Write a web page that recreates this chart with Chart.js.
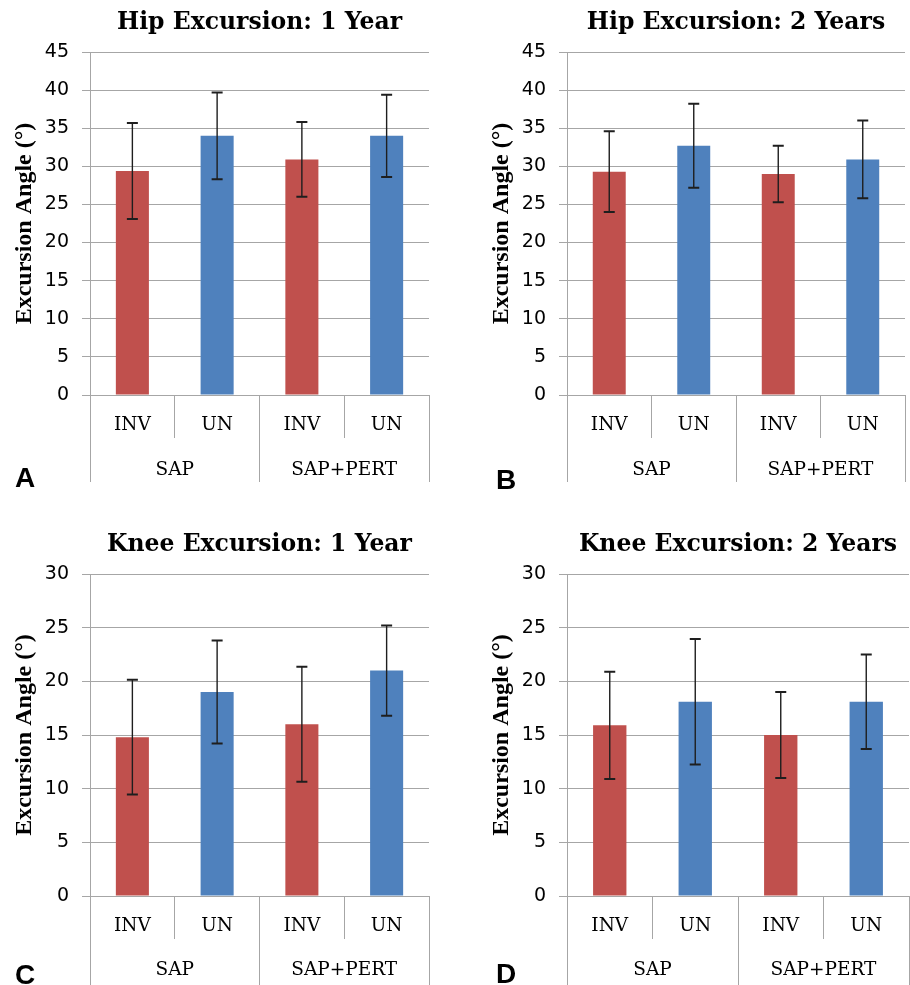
<!DOCTYPE html>
<html>
<head>
<meta charset="utf-8">
<script src="https://cdn.jsdelivr.net/npm/chart.js@4.4.0/dist/chart.umd.min.js"></script>
<style>
  body { margin: 0; background: #fff; width: 910px; height: 985px; position: relative; overflow: hidden; }
  canvas { position: absolute; }
  .tag { position: absolute; font: bold 28px "Liberation Sans", Arial, sans-serif; line-height: 28px; color: #000; }
</style>
</head>
<body>
<canvas id="hip1" width="455" height="482" style="left:0;top:0"></canvas>
<canvas id="hip2" width="433" height="482" style="left:477px;top:0"></canvas>
<canvas id="knee1" width="455" height="463" style="left:0;top:522px"></canvas>
<canvas id="knee2" width="433" height="463" style="left:477px;top:522px"></canvas>
<div class="tag" style="left:15px;top:464px">A</div>
<div class="tag" style="left:496px;top:466px">B</div>
<div class="tag" style="left:15px;top:961px">C</div>
<div class="tag" style="left:496px;top:960px">D</div>
<script>
// categories
const groupLabels = ['SAP', 'SAP+PERT'];
const subLabels = ['INV', 'UN', 'INV', 'UN'];

// means and error (+/-) per panel, in degrees
const hip1Mean = [29.4, 34.0, 30.9, 34.0];
const hip1Err = [6.3, 5.7, 4.9, 5.4];
const hip2Mean = [29.3, 32.7, 29.0, 30.9];
const hip2Err = [5.3, 5.5, 3.7, 5.1];
const knee1Mean = [14.8, 19.0, 16.0, 21.0];
const knee1Err = [5.35, 4.8, 5.35, 4.2];
const knee2Mean = [15.9, 18.1, 15.0, 18.1];
const knee2Err = [5.0, 5.85, 4.0, 4.4];

// axis ranges
const hipMax = 45;
const kneeMax = 30;
const tickStep = 5;

const RED = '#c0504d';
const BLUE = '#4f81bd';
const GRID = '#a6a6a6';
const barColors = [RED, BLUE, RED, BLUE];

const errorBars = {
  id: 'errorBars',
  afterDatasetsDraw(chart) {
    const ctx = chart.ctx;
    const y = chart.scales.y;
    const ds = chart.data.datasets[0];
    const meta = chart.getDatasetMeta(0);
    ctx.save();
    ctx.strokeStyle = '#1e1e1e';
    meta.data.forEach((bar, i) => {
      const top = y.getPixelForValue(ds.data[i] + ds.errors[i]);
      const bot = y.getPixelForValue(ds.data[i] - ds.errors[i]);
      ctx.lineWidth = 1.4;
      ctx.beginPath();
      ctx.moveTo(bar.x, top);
      ctx.lineTo(bar.x, bot);
      ctx.stroke();
      ctx.lineWidth = 2;
      ctx.beginPath();
      ctx.moveTo(bar.x - 5.5, top);
      ctx.lineTo(bar.x + 5.5, top);
      ctx.moveTo(bar.x - 5.5, bot);
      ctx.lineTo(bar.x + 5.5, bot);
      ctx.stroke();
    });
    ctx.restore();
  }
};

function makePanel(id, title, means, errs, yMax, padRight, groupH, groupPad) {
  return new Chart(document.getElementById(id), {
    type: 'bar',
    data: {
      labels: subLabels,
      datasets: [{
        data: means,
        errors: errs,
        backgroundColor: barColors,
        borderWidth: 0,
        categoryPercentage: 1,
        barPercentage: 0.39
      }]
    },
    options: {
      responsive: false,
      animation: false,
      devicePixelRatio: 1,
      layout: { padding: { left: 0, right: padRight, top: 0, bottom: 0 } },
      plugins: {
        legend: { display: false },
        tooltip: { enabled: false },
        title: {
          display: true,
          text: title,
          fullSize: false,
          color: '#000',
          font: { family: 'DejaVu Serif', size: 23.5, weight: 'bold' },
          padding: { top: 9, bottom: 14.8 }
        }
      },
      scales: {
        y: {
          min: 0,
          max: yMax,
          afterFit: (s) => { s.width = 90; },
          ticks: {
            stepSize: tickStep,
            color: '#000',
            padding: 13,
            font: { family: 'DejaVu Sans', size: 19 }
          },
          grid: { color: GRID, lineWidth: 1, tickLength: 8 },
          border: { color: GRID },
          title: {
            display: true,
            text: 'Excursion Angle (°)',
            color: '#000',
            font: { family: 'Liberation Serif', size: 24, weight: 'bold' },
            padding: { top: 10.6, bottom: 0 }
          }
        },
        x: {
          weight: 0,
          afterFit: (s) => { s.height = 43; },
          grid: { offset: true, drawOnChartArea: false, color: GRID, tickLength: 43 },
          border: { color: GRID },
          ticks: {
            color: '#000',
            padding: -24,
            font: { family: 'DejaVu Serif', size: 18.5 }
          }
        },
        x2: {
          type: 'category',
          position: 'bottom',
          weight: 1,
          labels: groupLabels,
          offset: true,
          afterFit: (s) => { s.height = groupH; },
          grid: { offset: true, drawOnChartArea: false, color: GRID, tickLength: groupH },
          border: { display: false },
          ticks: {
            color: '#000',
            padding: groupPad,
            font: { family: 'DejaVu Serif', size: 18.5 }
          }
        }
      }
    },
    plugins: [errorBars]
  });
}

makePanel('hip1', 'Hip Excursion: 1 Year', hip1Mean, hip1Err, hipMax, 26, 44, -22.8);
makePanel('hip2', 'Hip Excursion: 2 Years', hip2Mean, hip2Err, hipMax, 5, 44, -22.8);
makePanel('knee1', 'Knee Excursion: 1 Year', knee1Mean, knee1Err, kneeMax, 26, 46, -25.8);
makePanel('knee2', 'Knee Excursion: 2 Years', knee2Mean, knee2Err, kneeMax, 1, 46, -25.8);
</script>
</body>
</html>
